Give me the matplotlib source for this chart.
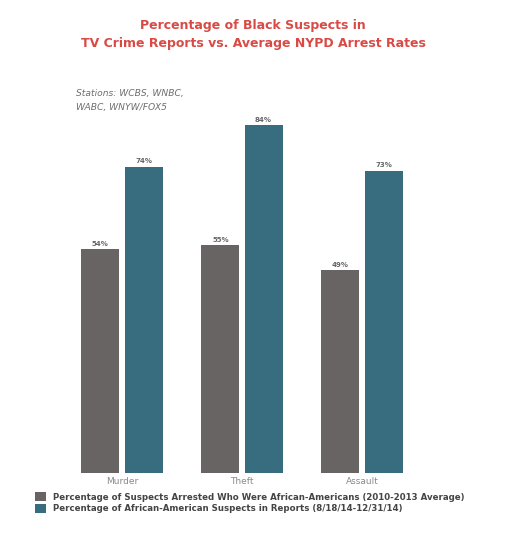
import numpy as np
import matplotlib
matplotlib.use('Agg')
import matplotlib.pyplot as plt

# Données
crimes = ['Murder', 'Theft', 'Assault']
arrest_rates = [54, 55, 49]
tv_rates = [74, 84, 73]
legend_labels = [
    'Percentage of Suspects Arrested Who Were African-Americans (2010-2013 Average)',
    'Percentage of African-American Suspects in Reports (8/18/14-12/31/14)',
]
title_lines = ['Percentage of Black Suspects in',
               'TV Crime Reports vs. Average NYPD Arrest Rates']
stations = 'Stations: WCBS, WNBC,\nWABC, WNYW/FOX5'

gray = '#676463'
teal = '#386c7f'
red = '#d94a45'

W, H = 505, 540
fig = plt.figure(figsize=(W / 100, H / 100), dpi=100)

# axes: x 62..422 px, bas a y=473 px, 100 % = 414 px
left, right, bottom, top = 62, 422, 473, 59
ax = fig.add_axes([left / W, 1 - bottom / H, (right - left) / W, (bottom - top) / H])

x = np.arange(len(crimes))
width = 0.317
off = 0.18
b1 = ax.bar(x - off, arrest_rates, width, color=gray, label=legend_labels[0])
b2 = ax.bar(x + off, tv_rates, width, color=teal, label=legend_labels[1])

for bars in (b1, b2):
    for rect in bars:
        h = rect.get_height()
        ax.text(rect.get_x() + rect.get_width() / 2, h + 0.6, f'{h:.0f}%',
                ha='center', va='bottom', fontsize=5, fontweight='bold', color='#666666')

ax.set_xlim(-0.5, 2.5)
ax.set_ylim(0, 100)
ax.set_xticks(x)
ax.set_xticklabels(crimes, fontsize=6.5, color='#8a8a8a')
ax.tick_params(axis='x', length=0, pad=3)
ax.set_yticks([])
for s in ax.spines.values():
    s.set_visible(False)

# titre
fig.text(253 / W, 1 - 25 / H, title_lines[0], ha='center', va='center',
         fontsize=9.0, fontweight='bold', color=red)
fig.text(253 / W, 1 - 43 / H, title_lines[1], ha='center', va='center',
         fontsize=9.0, fontweight='bold', color=red)

fig.text(76 / W, 1 - 100.5 / H, stations, ha='left', va='center', fontsize=6.6,
         style='italic', color='#6e6e6e', linespacing=1.75)

# légende
leg = fig.legend(handles=[b1, b2], loc='upper left', bbox_to_anchor=(35 / W, 1 - 492 / H),
                 frameon=False, fontsize=6.2, handlelength=1.3, handleheight=1.3,
                 handletextpad=0.8, labelspacing=0.25, borderaxespad=0, borderpad=0)
for t in leg.get_texts():
    t.set_color('#444444')
    t.set_fontweight('bold')

fig.savefig('out.png', dpi=100)
